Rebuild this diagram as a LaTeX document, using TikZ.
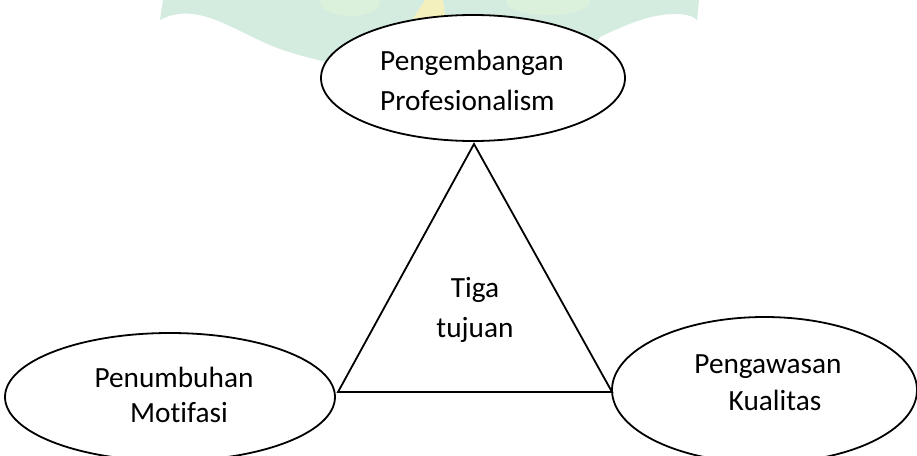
\documentclass[tikz,border=0pt]{standalone}
\usepackage{fontspec}
\setmainfont{Carlito}[Ligatures=NoCommon]
\usetikzlibrary{shapes.geometric}
\definecolor{wmmint}{RGB}{212,235,224}
\definecolor{wmlime}{RGB}{224,246,216}
\definecolor{wmgold}{RGB}{244,240,190}
\begin{document}
\begin{tikzpicture}[x=1pt,y=-1pt,
  oval/.style={ellipse, draw=black, line width=1.8pt, fill=white, inner sep=0pt},
  txt/.style={font=\fontsize{29.3}{34}\selectfont, inner sep=0pt, anchor=base},
  tri/.style={draw=black, line width=1.8pt, line join=miter}]
\useasboundingbox (0,0) rectangle (917,455);

% faint emblem in the page background
\fill[wmmint] (163,0) -- (160,20)
  .. controls (175,12) and (190,12) .. (207,17)
  .. controls (230,24) and (255,40) .. (280,49)
  .. controls (300,56) and (318,60) .. (335,64)
  -- (400,112) -- (560,100) -- (600,37)
  .. controls (625,25) and (650,14) .. (675,14)
  .. controls (688,14) and (694,17) .. (697,20)
  -- (699,0) -- cycle;
\fill[wmlime, opacity=0.6] (350,2) ellipse (30pt and 14pt);
\fill[wmlime, opacity=0.6] (548,2) ellipse (42pt and 13pt);
\fill[wmgold] (425,0) -- (443,0) -- (446,22) -- (411,22) -- cycle;

% the three aims
\node[oval, minimum width=304pt, minimum height=126pt] (prof) at (473,78) {};
\node[oval, minimum width=330pt, minimum height=128pt] (motif) at (170,397) {};
\node[oval, minimum width=305pt, minimum height=146pt] (kual) at (764.5,390) {};

% central triangle
\coordinate (apex) at (474,144);
\coordinate (bl) at (338,392);
\coordinate (br) at (612,392);
\draw[tri] (apex) -- (bl) -- (br) -- cycle;

% labels
\node[txt, anchor=base west] (p1) at (380,70) {Pengembangan};
\node[txt, anchor=base west] (p2) at (380,110) {Profesionalism};
\node[txt] (m1) at (174,387) {Penumbuhan};
\node[txt] (m2) at (179,422) {Motifasi};
\node[txt] (k1) at (768,373) {Pengawasan};
\node[txt] (k2) at (775,410) {Kualitas};
\node[txt] (g1) at (475,297) {Tiga};
\node[txt] (g2) at (475,337) {tujuan};
\end{tikzpicture}
\end{document}
